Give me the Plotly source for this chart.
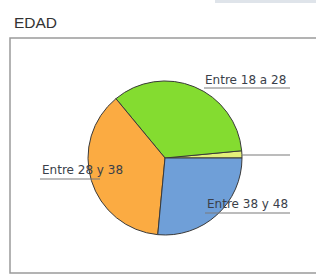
import plotly.graph_objects as go

labels = ["Menos de 18", "Entre 18 a 28", "Entre 28 y 38", "Entre 38 y 48"]
values = [1.5, 34.5, 37.5, 26.5]
colors = ["#e4f07a", "#84dc30", "#fbab42", "#6f9fd8"]
shown_labels = ["", "Entre 18 a 28", "Entre 28 y 38", "Entre 38 y 48"]

W, H = 316, 276
def px(x): return x / W
def py(y): return 1 - y / H

cx, cy, r = 165, 158, 77

fig = go.Figure(go.Pie(
    labels=labels, values=values, sort=False, direction="counterclockwise",
    rotation=84.6, textinfo="none", hoverinfo="label+percent",
    marker=dict(colors=colors, line=dict(color="#3a3a3a", width=1)),
    domain=dict(x=[px(cx - r), px(cx + r)], y=[py(cy + r), py(cy - r)]),
    showlegend=False,
))

shapes = [
    dict(type="rect", xref="paper", yref="paper", x0=px(10), x1=px(330), y0=py(273), y1=py(38),
         line=dict(color="#9a9a9a", width=1.5), fillcolor="rgba(0,0,0,0)", layer="below"),
    dict(type="rect", xref="paper", yref="paper", x0=px(215), x1=px(320), y0=py(3), y1=py(-2),
         line=dict(width=0), fillcolor="#dfe4ea", layer="below"),
]
# leader lines / underlines
lines = [
    (204, 88, 290, 88),
    (242, 155, 290, 155),
    (40, 179, 100, 179),
    (205, 213, 290, 213),
]
for x0, y0, x1, y1 in lines:
    shapes.append(dict(type="line", xref="paper", yref="paper", x0=px(x0), y0=py(y0),
                       x1=px(x1), y1=py(y1), line=dict(color="#7a7a7a", width=1.2)))

annotations = [
    dict(text="EDAD", x=px(12), y=py(22), xref="paper", yref="paper", showarrow=False,
         xanchor="left", yanchor="middle", font=dict(family="Liberation Sans, Arial", size=15.5, color="#333333")),
]
label_pos = [(None, None), (288, 80), (40, 170), (290, 204)]
anchors = [None, "right", "left", "right"]
for lab, (x, y), a in zip(shown_labels, label_pos, anchors):
    if not lab:
        continue
    annotations.append(dict(text=lab, x=px(x), y=py(y), xref="paper", yref="paper", showarrow=False,
                            xanchor=a, yanchor="middle",
                            font=dict(family="DejaVu Sans", size=12, color="#3a3f4a")))

fig.update_layout(
    width=W, height=H, margin=dict(l=0, r=0, t=0, b=0),
    paper_bgcolor="white", plot_bgcolor="white",
    shapes=shapes, annotations=annotations,
)
fig.write_html("out.html", config={"displayModeBar": False},
               post_script="document.body.style.margin='0';document.body.style.overflow='hidden';")
